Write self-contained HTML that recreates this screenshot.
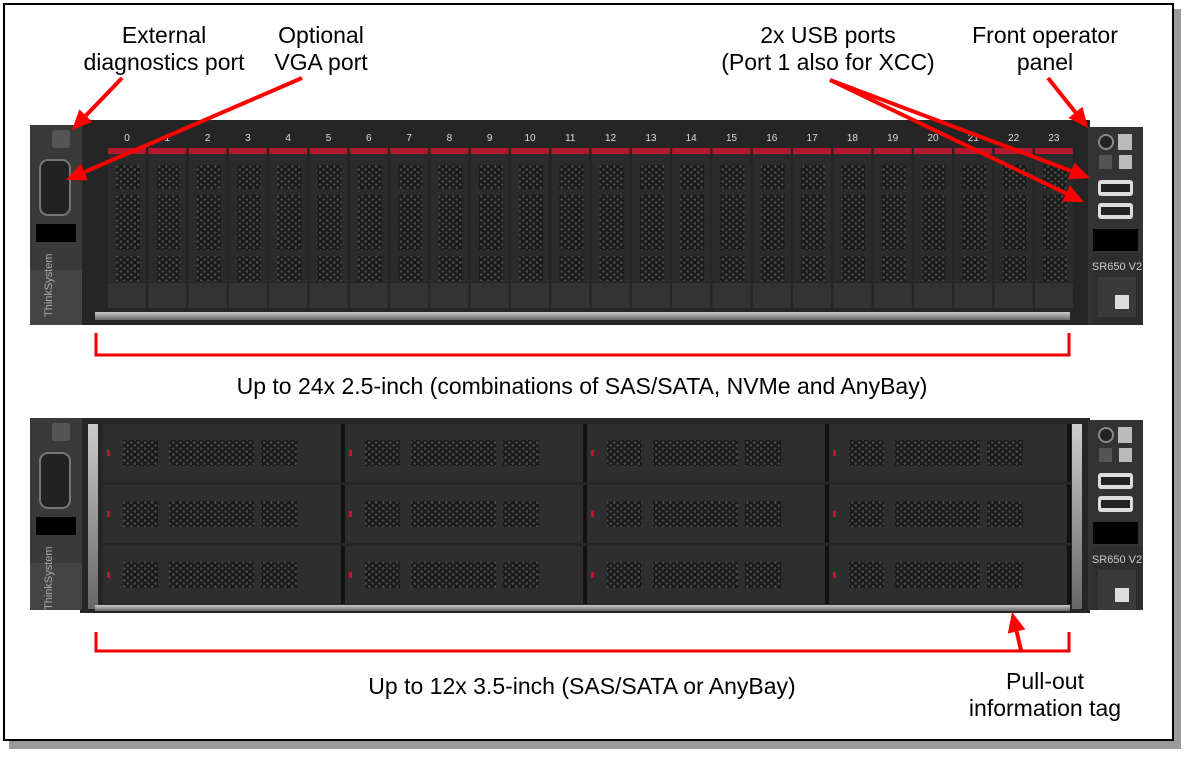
<!DOCTYPE html>
<html><head><meta charset="utf-8"><style>
body{margin:0;background:#fff;width:1201px;height:770px;overflow:hidden}
svg{display:block}
text{font-family:"Liberation Sans",sans-serif}
</style></head><body>
<svg id="s" width="1201" height="770" viewBox="0 0 1201 770" xmlns="http://www.w3.org/2000/svg">
<defs>
<pattern id="hex" width="7" height="6" patternUnits="userSpaceOnUse">
<rect width="7" height="6" fill="#1a1a1a"/>
<circle cx="1.75" cy="1.5" r="1.3" fill="#8a8a8a" fill-opacity="0.45"/>
<circle cx="5.25" cy="4.5" r="1.3" fill="#8a8a8a" fill-opacity="0.45"/>
</pattern>
<linearGradient id="rail" x1="0" x2="0" y1="0" y2="1"><stop offset="0" stop-color="#ccc"/><stop offset="1" stop-color="#666"/></linearGradient>
</defs>
<rect x="9" y="9" width="1172" height="740" fill="#9a9a9a"/>
<rect x="4" y="4" width="1169" height="736" fill="#fff" stroke="#000" stroke-width="2"/>
<g id="g"></g>
<g font-size="23" fill="#000" text-anchor="middle">
<text x="164" y="43">External</text><text x="164" y="70">diagnostics port</text>
<text x="321" y="43">Optional</text><text x="321" y="70">VGA port</text>
<text x="828" y="43">2x USB ports</text><text x="828" y="70">(Port 1 also for XCC)</text>
<text x="1045" y="43">Front operator</text><text x="1045" y="70">panel</text>
<text x="582" y="394">Up to 24x 2.5-inch (combinations of SAS/SATA, NVMe and AnyBay)</text>
<text x="582" y="694">Up to 12x 3.5-inch (SAS/SATA or AnyBay)</text>
<text x="1045" y="689">Pull-out</text><text x="1045" y="716">information tag</text>
</g>
</svg>
<script>
var g=document.getElementById('g'),h='';
function R(x,y,w,hh,f,e){h+='<rect x="'+x+'" y="'+y+'" width="'+w+'" height="'+hh+'" fill="'+f+'" '+(e||'')+'/>';}
function ear(y0,y1,top){
 R(30,y0,52,y1-y0,'#3a3a3a');R(30,y0+145,52,y1-y0-145,'#444');
 R(52,y0+5,18,18,'#555','rx="3"');
 R(40,y0+35,30,55,'#222','rx="8" stroke="#777" stroke-width="2"');
 R(36,y0+99,40,18,'#000');
 h+='<text x="0" y="0" font-size="11" fill="#aaa" transform="translate(52,'+(y0+192)+') rotate(-90)">ThinkSystem</text>';
 R(1088,y0+2,55,y1-y0-2,'#333');
 h+='<circle cx="1106" cy="'+(y0+17)+'" r="7" fill="#222" stroke="#888" stroke-width="2"/>';
 R(1118,y0+9,14,16,'#bbb');R(1099,y0+30,13,14,'#555');R(1119,y0+30,13,14,'#bbb');
 R(1098,y0+55,35,16,'#ddd','rx="3"');R(1101,y0+59,29,8,'#222');
 R(1098,y0+78,35,16,'#ddd','rx="3"');R(1101,y0+82,29,8,'#222');
 R(1093,y0+104,45,22,'#000');
 R(1092,y0+128,50,y1-y0-128,'#2e2e2e');
 h+='<text x="1117" y="'+(y0+145)+'" font-size="11" fill="#ccc" text-anchor="middle">SR650 V2</text>';
 R(1098,y0+152,38,40,'#3a3a3a');R(1115,y0+170,14,14,'#ddd');
}
R(80,120,1010,205,'#252525');R(95,312,975,8,'url(#rail)');
ear(125,325);
for(var i=0;i<24;i++){var x=108+i*40.3;
 R(x,148,38,6,'#b3182f');R(x,154,38,128,'#2b2b2b');
 R(x+8,165,24,24,'url(#hex)');R(x+8,195,24,55,'url(#hex)');R(x+8,256,24,25,'url(#hex)');
 R(x,283,38,25,'#333');
 h+='<text x="'+(x+19)+'" y="141" font-size="10" fill="#ddd" text-anchor="middle">'+i+'</text>';}
R(80,418,1010,195,'#262626');R(88,424,10,185,'url(#rail)');R(1072,424,10,185,'url(#rail)');R(95,605,975,6,'url(#rail)');
ear(418,610);
for(var c=0;c<4;c++)for(var r=0;r<3;r++){var x=103+c*242,y=424+r*61;
 R(x,y,238,58,'#2e2e2e');R(x+238,y,4,58,'#111');
 R(x+20,y+16,35,26,'url(#hex)');R(x+66,y+16,85,26,'url(#hex)');R(x+158,y+16,36,26,'url(#hex)');
 R(x+4,y+26,3,6,'#c4122f');}
h+='<path d="M96 333V355H1069V333M96 632V651H1069V632" fill="none" stroke="#e00" stroke-width="3"/>';
function A(x1,y1,x2,y2){var a=Math.atan2(y2-y1,x2-x1),L=20,W=9;
 var bx=x2-L*Math.cos(a),by=y2-L*Math.sin(a);
 h+='<line x1="'+x1+'" y1="'+y1+'" x2="'+bx+'" y2="'+by+'" stroke="#f00" stroke-width="4"/>';
 h+='<polygon fill="#f00" points="'+x2+','+y2+' '+(bx+W*Math.sin(a))+','+(by-W*Math.cos(a))+' '+(bx-W*Math.sin(a))+','+(by+W*Math.cos(a))+'"/>';}
A(122,78,72,130);A(302,78,66,180);A(830,80,1090,178);A(830,80,1084,202);A(1048,78,1088,128);A(1021,650,1012,612);
g.innerHTML=h;
</script>
</body></html>
